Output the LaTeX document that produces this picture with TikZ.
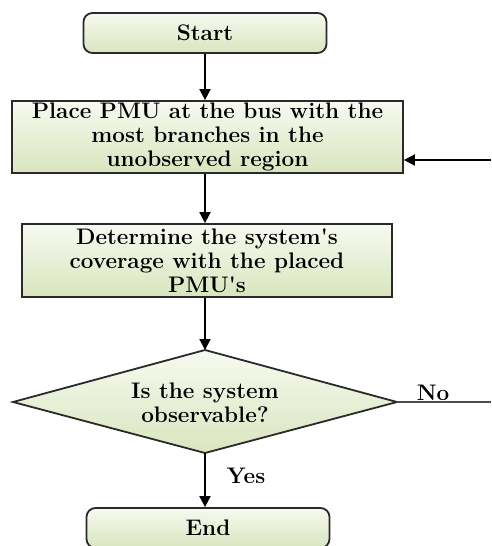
\documentclass[tikz,border=0pt]{standalone}
\usetikzlibrary{shapes.geometric,arrows.meta,calc}
\definecolor{boxtop}{HTML}{F7FAF0}
\definecolor{boxbot}{HTML}{D9E5BE}
\definecolor{edge}{HTML}{2A2A2A}
\tikzset{
  x=1pt,y=-1pt,
  boxfont/.style={font=\fontsize{22.5}{24}\selectfont\bfseries},
  flowbox/.style={draw=edge,line width=1.8pt,top color=boxtop,bottom color=boxbot,
    align=center,boxfont,inner sep=0pt},
  termbox/.style={flowbox,rounded corners=9pt},
  flow/.style={line width=1.8pt,-{Triangle[length=11pt,width=11pt]}},
  plain/.style={line width=1.6pt,draw=black!70},
  edgelabel/.style={boxfont,inner sep=1pt}
}
\begin{document}
\begin{tikzpicture}
\useasboundingbox (0,0) rectangle (491,546);
% process steps
\node[termbox,minimum width=243pt,minimum height=40pt] (start) at (205,33) {Start};
\node[flowbox,minimum width=391pt,minimum height=72pt] (place) at (207.5,137)
  {Place PMU at the bus with the\\most branches in the\\unobserved region};
\node[flowbox,minimum width=370pt,minimum height=73pt] (cover) at (207,260.5)
  {Determine the system\textquotesingle s\\coverage with the placed\\PMU\textquotesingle s};
\node[termbox,minimum width=243pt,minimum height=40pt] (stop) at (208,528) {End};
% decision diamond, drawn by its four tips
\draw[draw=edge,line width=1.8pt,top color=boxtop,bottom color=boxbot]
  (13,402) -- (205,350) -- (397,402) -- (205,453) -- cycle;
\node[align=center,boxfont] (q) at (205,403) {Is the system\\observable?};
\coordinate (dtop) at (205,350);
\coordinate (dbot) at (205,453);
\coordinate (dright) at (397,402);
% connectors
\draw[flow] (start) -- (place.north -| start);
\draw[flow] (place.south -| q) -- (cover.north -| q);
\draw[flow] (cover.south -| q) -- (dtop);
\draw[flow] (dbot) -- (stop.north -| dbot);
\node[edgelabel] (yes) at (246,476) {Yes};
\coordinate (noend) at (491,402);
\draw[plain] (dright) -- (noend);
\node[edgelabel] (no) at (433,393) {No};
\coordinate (back) at (491,160);
\draw[flow] (back) -- (place.east |- back);
\end{tikzpicture}
\end{document}
